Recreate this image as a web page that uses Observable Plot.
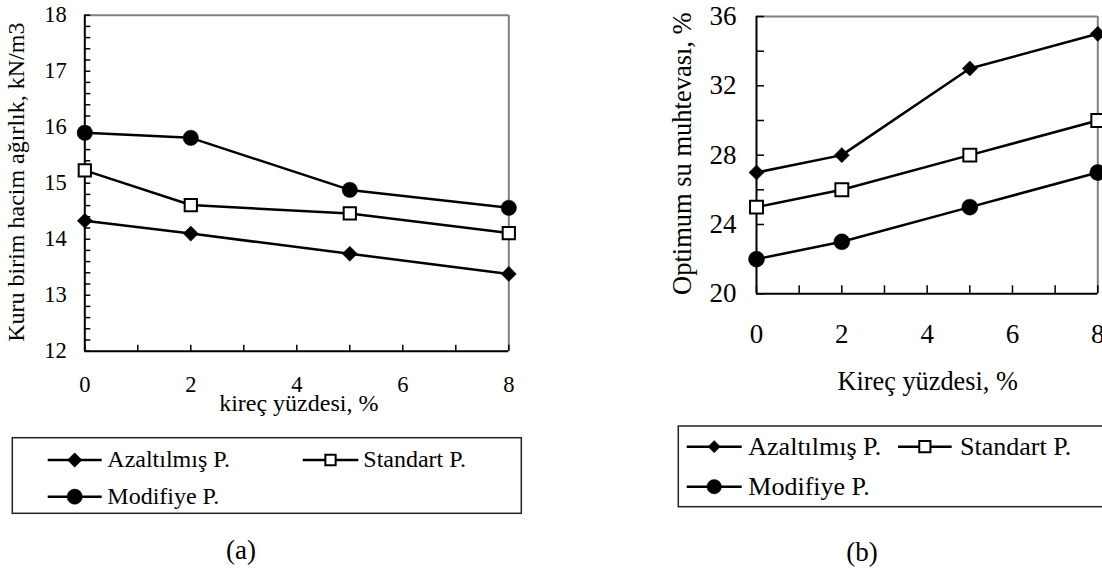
<!DOCTYPE html>
<html><head><meta charset="utf-8">
<script src="https://cdn.jsdelivr.net/npm/d3@7"></script>
<script src="https://cdn.jsdelivr.net/npm/@observablehq/plot@0.6"></script>
<style>
html,body{margin:0;padding:0;background:#fff;}
#root{position:relative;width:1102px;height:573px;overflow:hidden;font-family:"Liberation Serif","Times New Roman",serif;}
#root > *{position:absolute;}
</style></head><body><div id="root"></div>
<script>
// ---- data ----
const kirec = [0, 2, 5, 8];
const seriesNames = ["Azaltılmış P.", "Standart P.", "Modifiye P."];
// (a) Kuru birim hacim ağırlık, kN/m3
const azaltilmisA = [14.33, 14.10, 13.74, 13.38];
const standartA   = [15.23, 14.61, 14.46, 14.11];
const modifiyeA   = [15.90, 15.81, 14.88, 14.56];
// (b) Optimum su muhtevası, %
const azaltilmisB = [27, 28, 33, 35];
const standartB   = [25, 26, 28, 30];
const modifiyeB   = [22, 23, 25, 27];
// ticks
const xTickLabels = [0, 2, 4, 6, 8];
const xMinorTicks = [0, 1, 2, 3, 4, 5, 6, 7, 8];
const yTickLabelsA = [12, 13, 14, 15, 16, 17, 18];
const yMinorTicksA = d3.range(0, 31).map(i => 12 + i * 0.2);
const yTickLabelsB = [20, 24, 28, 32, 36];
const yMinorTicksB = [20, 22, 24, 26, 28, 30, 32, 34, 36];
const titleYA = "Kuru birim hacim ağırlık, kN/m3";
const titleXA = "kireç yüzdesi, %";
const titleYB = "Optimum su muhtevası, %";
const titleXB = "Kireç yüzdesi, %";

const FONT = "'Liberation Serif', 'Times New Roman', serif";
const styles = [
  {name: seriesNames[0], plotSym: "diamond2", d3Sym: d3.symbolDiamond2, fill: "black", rA: 6.8, rB: 6.8},
  {name: seriesNames[1], plotSym: "square",   d3Sym: d3.symbolSquare,   fill: "white", rA: 6.9, rB: 7.3},
  {name: seriesNames[2], plotSym: "circle",   d3Sym: d3.symbolCircle,   fill: "black", rA: 7.7, rB: 8}
];

function rows(arrs) {
  const out = [];
  arrs.forEach((arr, s) => arr.forEach((v, i) => out.push({x: kirec[i], y: v, series: seriesNames[s]})));
  return out;
}
const dataA = rows([azaltilmisA, standartA, modifiyeA]);
const dataB = rows([azaltilmisB, standartB, modifiyeB]);

function chart(cfg) {
  const pw = cfg.width - cfg.ml - cfg.mr, ph = cfg.height - cfg.mt - cfg.mb;
  const dots = styles.map(st => Plot.dot(cfg.data.filter(d => d.series === st.name), {
    x: "x", y: "y", symbol: () => st.plotSym, r: cfg.key === "A" ? st.rA : st.rB,
    fill: st.fill, stroke: "black", strokeWidth: st.fill === "white" ? 2 : 0.5
  }));
  return Plot.plot({
    width: cfg.width, height: cfg.height,
    marginLeft: cfg.ml, marginRight: cfg.mr, marginTop: cfg.mt, marginBottom: cfg.mb,
    style: {fontFamily: FONT, fontSize: cfg.tickFont + "px", color: "black", background: "transparent", overflow: "visible"},
    x: {domain: [0, 8]},
    y: {domain: cfg.ydomain},
    symbol: {type: "identity"},
    marks: [
      Plot.ruleY([cfg.ydomain[1]], {stroke: "#808080", strokeWidth: 2}),
      Plot.ruleX([8], {stroke: "#808080", strokeWidth: 2}),
      Plot.tickY(cfg.yMinor, {y: d => d, insetRight: pw - cfg.tick, stroke: "black", strokeWidth: 1.5}),
      Plot.tickX(xMinorTicks, {x: d => d, insetTop: ph - cfg.tick, stroke: "black", strokeWidth: 1.5}),
      Plot.ruleX([0], {stroke: "black", strokeWidth: 2}),
      Plot.ruleY([cfg.ydomain[0]], {stroke: "black", strokeWidth: 2}),
      Plot.axisY({ticks: cfg.yTicks, tickSize: 0, tickPadding: cfg.padY, label: null, fontSize: cfg.tickFont, tickFormat: d => String(d)}),
      Plot.axisX({ticks: xTickLabels, tickSize: 0, tickPadding: cfg.padX, label: null, fontSize: cfg.tickFont, tickFormat: d => String(d)}),
      Plot.line(cfg.data, {x: "x", y: "y", z: "series", stroke: "black", strokeWidth: 2.5}),
      ...dots,
      Plot.text([cfg.titleY], {text: d => d, frameAnchor: "left", textAnchor: "middle", lineAnchor: "middle", rotate: -90, dx: cfg.tyDx, dy: cfg.tyDy, fontSize: cfg.titleYFont, fill: "black"}),
      Plot.text([cfg.titleX], {text: d => d, frameAnchor: "bottom", textAnchor: "middle", lineAnchor: "middle", dx: cfg.txDx, dy: cfg.txDy, fontSize: cfg.titleFont, fill: "black"})
    ]
  });
}

const root = document.getElementById("root");

const svgA = chart({key: "A", width: 540, height: 430, ml: 84.3, mr: 31.7, mt: 14.7, mb: 79.3,
  data: dataA, ydomain: [12, 18], yTicks: yTickLabelsA, yMinor: yMinorTicksA, tick: 6,
  tickFont: 22.5, titleFont: 24, titleYFont: 24, padY: 18, padX: 25,
  titleY: titleYA, titleX: titleXA, tyDx: -68, tyDy: -1, txDx: 2, txDy: 52});
svgA.style.left = "0px"; svgA.style.top = "0px";
root.appendChild(svgA);

const svgB = chart({key: "B", width: 522, height: 420, ml: 176, mr: 4.7, mt: 16, mb: 126.7,
  data: dataB, ydomain: [20, 36], yTicks: yTickLabelsB, yMinor: yMinorTicksB, tick: 8,
  tickFont: 27, titleFont: 26.3, titleYFont: 26.5, padY: 20, padX: 30.2,
  titleY: titleYB, titleX: titleXB, tyDx: -74, tyDy: -1.5, txDx: 0.5, txDy: 87.4});
svgB.style.left = "580px"; svgB.style.top = "0px";
svgB.style.overflow = "hidden";
root.appendChild(svgB);

// ---- legends and panel labels ----
const ov = d3.create("svg").attr("width", 1102).attr("height", 573)
  .style("left", "0px").style("top", "0px").style("font-family", FONT);

function legend(box, items, fontSize) {
  ov.append("rect").attr("x", box.x).attr("y", box.y).attr("width", box.w).attr("height", box.h)
    .attr("fill", "white").attr("stroke", "#222").attr("stroke-width", 1.5);
  items.forEach(it => {
    const st = styles[it.s];
    ov.append("line").attr("x1", it.x0).attr("x2", it.x1).attr("y1", it.y).attr("y2", it.y)
      .attr("stroke", "black").attr("stroke-width", 2.5);
    ov.append("path").attr("d", d3.symbol(st.d3Sym, Math.PI * it.r * it.r)())
      .attr("transform", `translate(${(it.x0 + it.x1) / 2},${it.y})`)
      .attr("fill", st.fill).attr("stroke", "black").attr("stroke-width", st.fill === "white" ? 2 : 0.5);
    ov.append("text").attr("x", it.tx).attr("y", it.y).attr("dy", "0.3em")
      .style("font-size", fontSize + "px").text(st.name);
  });
}
legend({x: 12.3, y: 437.7, w: 509, h: 75.6}, [
  {s: 0, x0: 47.7, x1: 101.7, y: 460, tx: 107.3, r: 6.5},
  {s: 1, x0: 302.7, x1: 358.3, y: 460, tx: 363.3, r: 5.8},
  {s: 2, x0: 47.7, x1: 101.7, y: 496.7, tx: 107.3, r: 7.6}
], 24);
legend({x: 678.3, y: 426, w: 430, h: 80.7}, [
  {s: 0, x0: 686.7, x1: 741.7, y: 446.7, tx: 748.3, r: 5.5},
  {s: 1, x0: 898, x1: 951.7, y: 446.7, tx: 960, r: 6.3},
  {s: 2, x0: 686.7, x1: 741.7, y: 486.7, tx: 748.3, r: 7.2}
], 26);
ov.append("text").attr("x", 241).attr("y", 559).attr("text-anchor", "middle").style("font-size", "27px").text("(a)");
ov.append("text").attr("x", 862).attr("y", 561).attr("text-anchor", "middle").style("font-size", "27px").text("(b)");
ov.style("pointer-events", "none");
root.appendChild(ov.node());
</script></body></html>
